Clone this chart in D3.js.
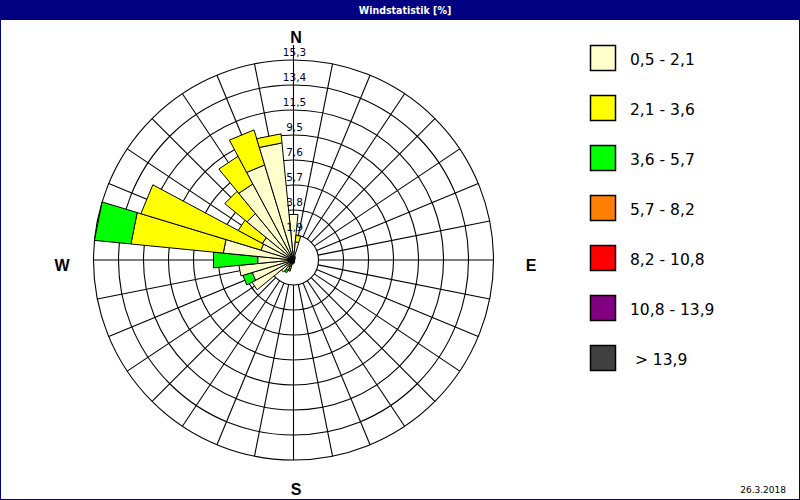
<!DOCTYPE html>
<html><head><meta charset="utf-8">
<script src="https://cdn.jsdelivr.net/npm/d3@7"></script>
<style>html,body{margin:0;padding:0;background:#fff;}svg{display:block;}</style>
</head><body>
<svg id="chart" width="800" height="500"></svg>
<script>
// 32 compass sectors, index 0 = N, clockwise in 11.25° steps
const sectorCount = 32;
const speedBins = ["0,5 - 2,1", "2,1 - 3,6", "3,6 - 5,7", "5,7 - 8,2", "8,2 - 10,8", "10,8 - 13,9", " > 13,9"];
const binColors = ["#FFFFCC", "#FFFF00", "#00FF00", "#FF8000", "#FF0000", "#800080", "#404040"];
// percent frequencies per speed bin, per sector (N, NbE, ..., NbW)
const bin1 = [3.5,1.4,0.3,0.2,0.2,0.1,0.1,0.1, 0.1,0.1,0.1,0.1,0.1,0.1,0.2,0.2, 0.3,0.3,0.4,0.6,1.2,3.6,3.3,4.2, 2.75,5.4,2.6,2.7,4.6,6.6,7.6,9.0];
const bin2 = [0.0,0.5,0.0,0.0,0.0,0.0,0.0,0.0, 0.0,0.0,0.0,0.0,0.0,0.0,0.0,0.0, 0.0,0.0,0.3,0.3,0.0,0.0,0.0,0.0, 0.0,7.1,9.6,2.1,2.2,2.4,2.8,0.7];
const bin3 = [0.0,0.0,0.0,0.0,0.0,0.0,0.0,0.0, 0.0,0.0,0.0,0.0,0.0,0.0,0.0,0.0, 0.0,0.0,0.2,0.2,0.0,0.0,0.75,0.0, 3.4,2.8,0.0,0.0,0.0,0.0,0.0,0.0];
const bin4 = new Array(32).fill(0);
const bin5 = new Array(32).fill(0);
const bin6 = new Array(32).fill(0);
const bin7 = new Array(32).fill(0);
const bins = [bin1, bin2, bin3, bin4, bin5, bin6, bin7];
const ringLabels = ["1,9","3,8","5,7","7,6","9,5","11,5","13,4","15,3"];
const ringValues = [1.9125,3.825,5.7375,7.65,9.5625,11.475,13.3875,15.3];
const compass = [{t:"N",a:0},{t:"E",a:90},{t:"S",a:180},{t:"W",a:270}];
const title = "Windstatistik [%]";
const dateText = "26.3.2018";

const svg = d3.select("#chart");
const W = 800, H = 500;
const cx = 293.5, cy = 260, R = 200;
const font = "'DejaVu Sans', Verdana, sans-serif";

svg.append("rect").attr("x",0).attr("y",0).attr("width",W).attr("height",H).attr("fill","#fff");
svg.append("rect").attr("x",0).attr("y",0).attr("width",W).attr("height",20).attr("fill","#000080");
svg.append("rect").attr("x",0.5).attr("y",0.5).attr("width",W-1).attr("height",H-1).attr("fill","none").attr("stroke","#000080");
svg.append("text").attr("x",405).attr("y",14).attr("text-anchor","middle").attr("fill","#fff")
  .attr("font-family","'DejaVu Sans Condensed', 'Liberation Sans Narrow', sans-serif").attr("font-size",10.5).attr("font-weight","bold").text(title);

const r = d3.scaleLinear().domain([0, 15.3]).range([0, R]);
const angle = d3.scaleLinear().domain([0, sectorCount]).range([0, 2*Math.PI]);
const g = svg.append("g").attr("transform", `translate(${cx},${cy})`);

// grid: radial lines
const innerR = r(ringValues[0]);
g.selectAll("line.spoke").data(d3.range(sectorCount)).join("line")
  .attr("x1", d => innerR*Math.sin(angle(d))).attr("y1", d => -innerR*Math.cos(angle(d)))
  .attr("x2", d => R*Math.sin(angle(d))).attr("y2", d => -R*Math.cos(angle(d)))
  .attr("stroke","#000").attr("stroke-width",1.1);
// extension of north axis
g.append("line").attr("x1",0).attr("y1",-R).attr("x2",0).attr("y2",-R-15).attr("stroke","#000").attr("stroke-width",1.1);
// rings
g.selectAll("circle.ring").data(ringValues).join("circle")
  .attr("r", d => r(d)).attr("fill","none").attr("stroke","#000").attr("stroke-width",1.1);

// wedges
const cum = d3.range(sectorCount).map(i => {
  let acc = 0; return bins.map(b => { const lo = acc; acc += b[i]; return [lo, acc]; });
});
const half = angle(0.5);
const radial = d3.lineRadial().angle(p => p[0]).radius(p => p[1]).curve(d3.curveLinearClosed);
const wedges = [];
d3.range(sectorCount).forEach(i => {
  bins.forEach((b, k) => {
    if (b[i] > 0) wedges.push({i, k, lo: cum[i][k][0], hi: cum[i][k][1]});
  });
});
g.selectAll("path.wedge").data(wedges).join("path")
  .attr("d", d => {
    const a0 = angle(d.i) - half, a1 = angle(d.i) + half;
    const pts = d.lo > 0 ? [[a0, r(d.lo)],[a0, r(d.hi)],[a1, r(d.hi)],[a1, r(d.lo)]]
                         : [[0,0],[a0, r(d.hi)],[a1, r(d.hi)]];
    return radial(pts);
  })
  .attr("fill", d => binColors[d.k]).attr("stroke","#000").attr("stroke-width",1);

// ring labels
g.selectAll("text.rl").data(ringValues).join("text")
  .attr("x", 1).attr("y", (d) => -r(d) - 4)
  .attr("text-anchor","middle").attr("font-family",font).attr("font-size",10.5).attr("fill","#000033")
  .text((d,i) => ringLabels[i]);

// compass letters
const cpos = {N:[296,43],E:[531,271],S:[296,495],W:[62,271]};
svg.selectAll("text.cp").data(compass).join("text")
  .attr("x", d => cpos[d.t][0]).attr("y", d => cpos[d.t][1])
  .attr("text-anchor","middle").attr("font-family","'Liberation Sans', Arial, sans-serif")
  .attr("font-weight","bold").attr("font-size",16).attr("fill","#000").text(d => d.t);

// legend
const lg = svg.append("g").attr("transform","translate(590,45)");
const items = lg.selectAll("g").data(speedBins).join("g").attr("transform",(d,i)=>`translate(0,${i*50})`);
items.append("rect").attr("x",0.5).attr("y",0.5).attr("width",25).attr("height",25)
  .attr("fill",(d,i)=>binColors[i]).attr("stroke","#000").attr("stroke-width",1.5);
items.append("text").attr("x",40).attr("y",20).attr("font-family",font).attr("font-size",15.5)
  .attr("fill","#000").attr("xml:space","preserve").style("white-space","pre").text(d=>d);

svg.append("text").attr("x",786).attr("y",493).attr("text-anchor","end").attr("font-family",font)
  .attr("font-size",9).attr("fill","#000").text(dateText);
</script>
</body></html>
